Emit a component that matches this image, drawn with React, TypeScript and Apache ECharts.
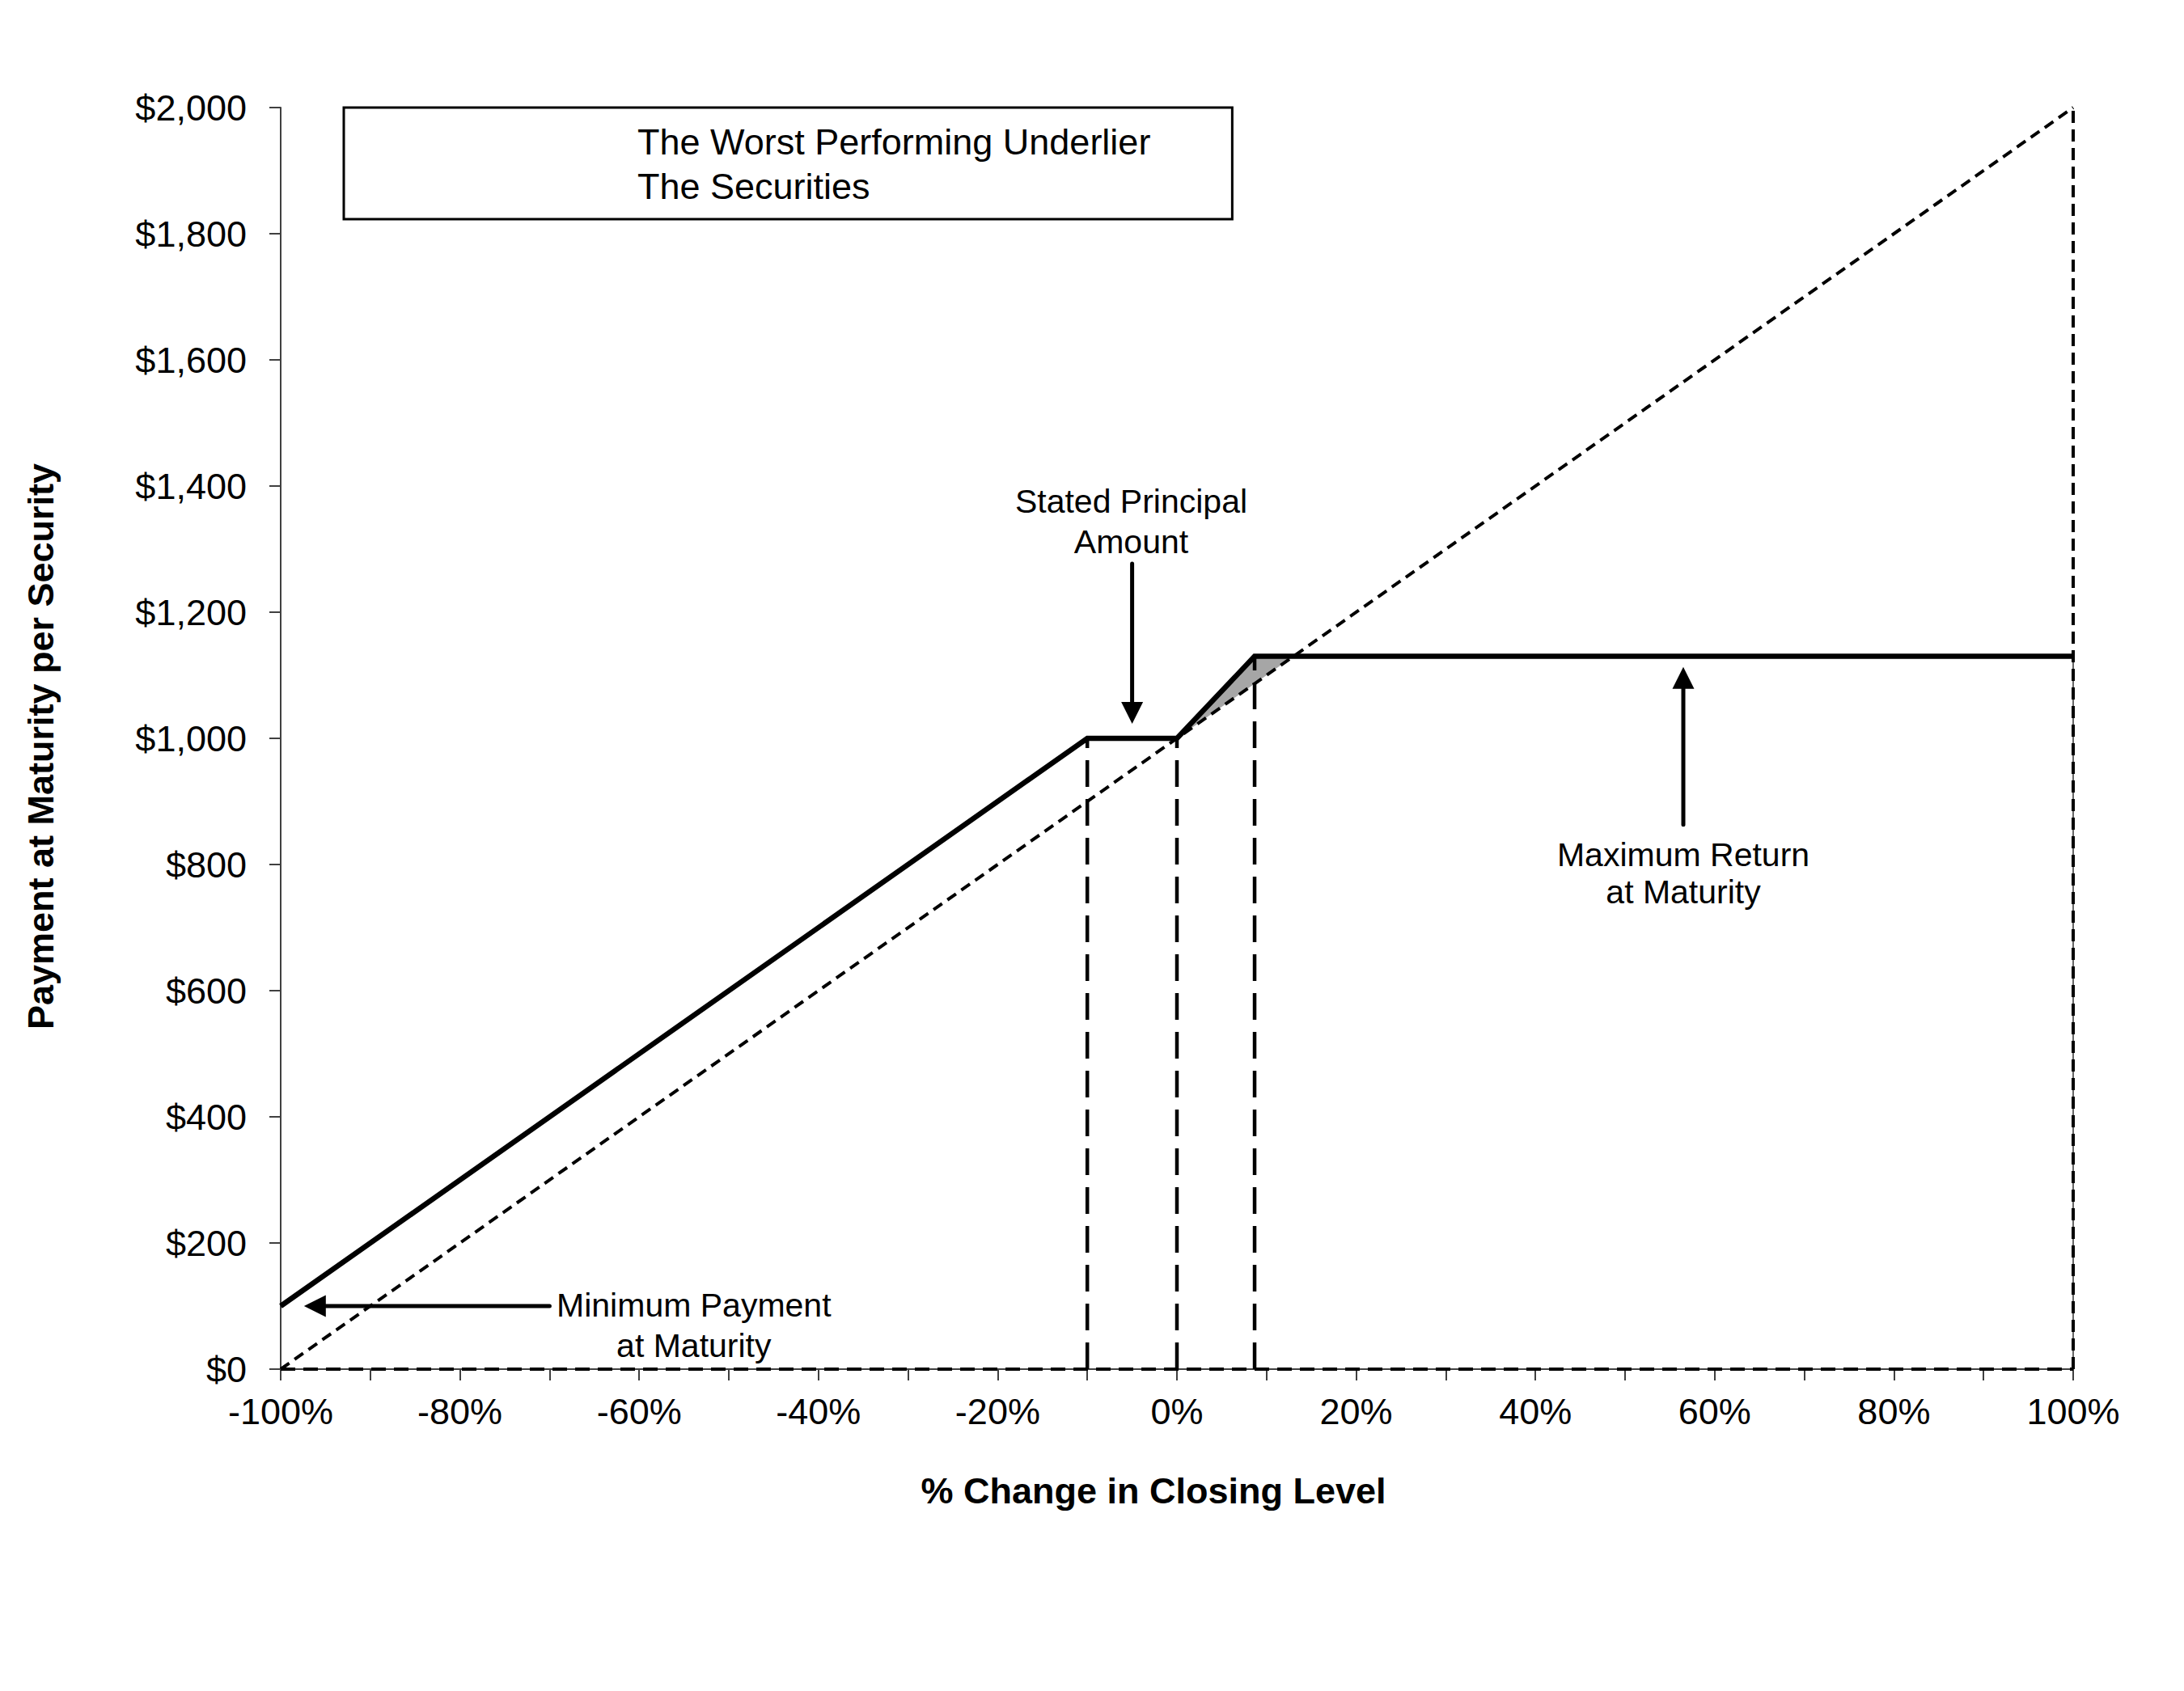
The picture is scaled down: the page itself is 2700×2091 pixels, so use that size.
import React, { useEffect, useRef } from "react";
import * as echarts from "echarts";

const FONT = '"Liberation Sans", Arial, Helvetica, sans-serif';

// Axis ranges / ticks
const X_MIN = -100;
const X_MAX = 100;
const X_STEP = 10;
const X_LABEL_STEP = 20;
const Y_MIN = 0;
const Y_MAX = 2000;
const Y_STEP = 200;

// Series names
const UNDERLIER_NAME = "The Worst Performing Underlier";
const SECURITIES_NAME = "The Securities";

// The Worst Performing Underlier (1:1 payoff)
const underlierX = [-100, 100];
const underlierY = [0, 2000];

// The Securities payoff
const securitiesX = [-100, -10, 0, 8.667, 100];
const securitiesY = [100, 1000, 1000, 1130, 1130];

// Dashed drop lines to the x-axis
const dropX = [-10, 0, 8.667];
const dropTopY = [1000, 1000, 1130];

// Dashed line along $0
const baseX = [-100, 100];
const baseY = [0, 0];

// Right edge (100%)
const edgeX = [100, 100];
const edgeY = [0, 2000];
const edgeCapY = [0, 1130];

// Shaded region between securities and underlier
const shadeX = [0, 8.667, 13];
const shadeY = [1000, 1130, 1130];

// Annotations (data units)
const annTexts = ["Stated Principal\nAmount", "Maximum Return\nat Maturity", "Minimum Payment\nat Maturity"];
const annFrom = [[-5, 1277], [56.5, 863], [-70, 100]];
const annTip = [[-5, 1023], [56.5, 1113], [-97.4, 100]];
const annLabelAt = [[-5.1, 1344], [56.5, 786], [-53.9, 69]];
const annLineHeight = [50, 46, 50];

const pairs = (xs: number[], ys: number[]) => xs.map((x, i) => [x, ys[i]]);

export default function App() {
  const ref = useRef<HTMLDivElement>(null);

  useEffect(() => {
    if (!ref.current) return;
    const chart = echarts.init(ref.current, undefined, { renderer: "svg" });

    const dropSeries = dropX.map((x, i) => ({
      type: "line",
      name: "drop" + i,
      data: [[x, 0], [x, dropTopY[i]]],
      symbol: "none",
      z: 3,
      lineStyle: { color: "#000", width: 4.5, type: [33, 15], cap: "butt" },
      silent: true,
    }));

    const option: any = {
      animation: false,
      backgroundColor: "#fff",
      textStyle: { fontFamily: FONT },
      grid: { left: 347, right: 137, top: 133, bottom: 398, outerBoundsMode: "none", containLabel: false },
      legend: {
        left: 425,
        top: 133,
        orient: "vertical",
        itemGap: 10,
        itemWidth: 25,
        itemHeight: 20,
        padding: [20, 101, 18, 333],
        borderColor: "#000",
        borderWidth: 3,
        backgroundColor: "#fff",
        icon: "rect",
        itemStyle: { color: "rgba(0,0,0,0)", borderColor: "rgba(0,0,0,0)", borderWidth: 0, opacity: 0 },
        lineStyle: { opacity: 0 },
        textStyle: { fontSize: 45, lineHeight: 45, fontFamily: FONT, color: "#000" },
        selectedMode: false,
        data: [UNDERLIER_NAME, SECURITIES_NAME],
      },
      xAxis: {
        type: "value",
        min: X_MIN,
        max: X_MAX,
        interval: X_STEP,
        name: "% Change in Closing Level",
        nameLocation: "middle",
        nameGap: 128,
        nameTextStyle: { fontSize: 45, fontWeight: "bold", fontFamily: FONT, color: "#000", padding: [0, 58, 0, 0] },
        axisLine: { show: true, onZero: false, lineStyle: { color: "#404040", width: 2 } },
        axisTick: { show: true, length: 14, inside: false, lineStyle: { color: "#404040", width: 2 } },
        axisLabel: {
          margin: 30,
          fontSize: 45,
          fontFamily: FONT,
          color: "#000",
          formatter: (v: number) => (Math.round(v) % X_LABEL_STEP === 0 ? `${Math.round(v)}%` : ""),
        },
        splitLine: { show: false },
      },
      yAxis: {
        type: "value",
        min: Y_MIN,
        max: Y_MAX,
        interval: Y_STEP,
        name: "Payment at Maturity per Security",
        nameLocation: "middle",
        nameRotate: 90,
        nameGap: 274,
        nameTextStyle: { fontSize: 45, fontWeight: "bold", fontFamily: FONT, color: "#000", padding: [0, 20, 0, 0] },
        axisLine: { show: true, onZero: false, lineStyle: { color: "#404040", width: 2 } },
        axisTick: { show: true, length: 14, inside: false, lineStyle: { color: "#404040", width: 2 } },
        axisLabel: {
          margin: 42,
          fontSize: 45,
          fontFamily: FONT,
          color: "#000",
          formatter: (v: number) => "$" + Math.round(v).toLocaleString("en-US"),
        },
        splitLine: { show: false },
      },
      series: [
        {
          type: "custom",
          name: "shade",
          silent: true,
          z: 1,
          data: [[shadeX[0], shadeY[0]]],
          renderItem: (_params: any, api: any) => ({
            type: "polygon",
            shape: { points: shadeX.map((x, i) => api.coord([x, shadeY[i]])) },
            style: { fill: "#a6a6a6" },
          }),
        },
        {
          type: "line",
          name: "base",
          data: pairs(baseX, baseY),
          symbol: "none",
          z: 2,
          silent: true,
          lineStyle: { color: "#000", width: 4, type: [18, 10], cap: "butt" },
        },
        {
          type: "line",
          name: "edgeSolid",
          data: pairs(edgeX, edgeCapY),
          symbol: "none",
          z: 2,
          silent: true,
          lineStyle: { color: "#333", width: 1.5, type: "solid" },
        },
        {
          type: "line",
          name: "edge",
          data: pairs(edgeX, edgeY),
          symbol: "none",
          z: 2,
          silent: true,
          lineStyle: { color: "#000", width: 4, type: [15, 8], cap: "butt" },
        },
        ...dropSeries,
        {
          type: "line",
          name: UNDERLIER_NAME,
          data: pairs(underlierX, underlierY),
          symbol: "none",
          z: 4,
          color: "#000",
          lineStyle: { color: "#000", width: 4, type: [13, 8], cap: "butt" },
        },
        {
          type: "line",
          name: SECURITIES_NAME,
          data: pairs(securitiesX, securitiesY),
          symbol: "none",
          z: 5,
          color: "#000",
          lineStyle: { color: "#000", width: 6.5, type: "solid", join: "miter", cap: "butt" },
        },
      ],
    };

    chart.setOption(option);

    const toPx = (p: number[]) => chart.convertToPixel({ gridIndex: 0 }, p) as number[];
    const graphics: any[] = [];
    annTexts.forEach((txt, i) => {
      const F = toPx(annFrom[i]);
      const T = toPx(annTip[i]);
      const L = toPx(annLabelAt[i]);
      const dx = T[0] - F[0];
      const dy = T[1] - F[1];
      const len = Math.sqrt(dx * dx + dy * dy) || 1;
      const ux = dx / len;
      const uy = dy / len;
      const headLen = 27;
      const headHalf = 13.5;
      const B = [T[0] - ux * headLen, T[1] - uy * headLen];
      const nx = -uy;
      const ny = ux;
      graphics.push({
        type: "line",
        silent: true,
        z: 100,
        shape: { x1: F[0], y1: F[1], x2: B[0] + ux * 2, y2: B[1] + uy * 2 },
        style: { stroke: "#000", lineWidth: 5, lineCap: "round" },
      });
      graphics.push({
        type: "polygon",
        silent: true,
        z: 100,
        shape: {
          points: [
            [T[0], T[1]],
            [B[0] + nx * headHalf, B[1] + ny * headHalf],
            [B[0] - nx * headHalf, B[1] - ny * headHalf],
          ],
        },
        style: { fill: "#000" },
      });
      graphics.push({
        type: "text",
        silent: true,
        z: 100,
        x: L[0],
        y: L[1],
        style: {
          text: txt,
          fontSize: 41,
          fontFamily: FONT,
          fill: "#000",
          align: "center",
          verticalAlign: "middle",
          lineHeight: annLineHeight[i],
        },
      });
    });
    chart.setOption({ graphic: graphics });

    return () => {
      chart.dispose();
    };
  }, []);

  return (
    <div
      ref={ref}
      style={{ position: "absolute", left: 0, top: 0, width: 2700, height: 2091, background: "#fff" }}
    />
  );
}
